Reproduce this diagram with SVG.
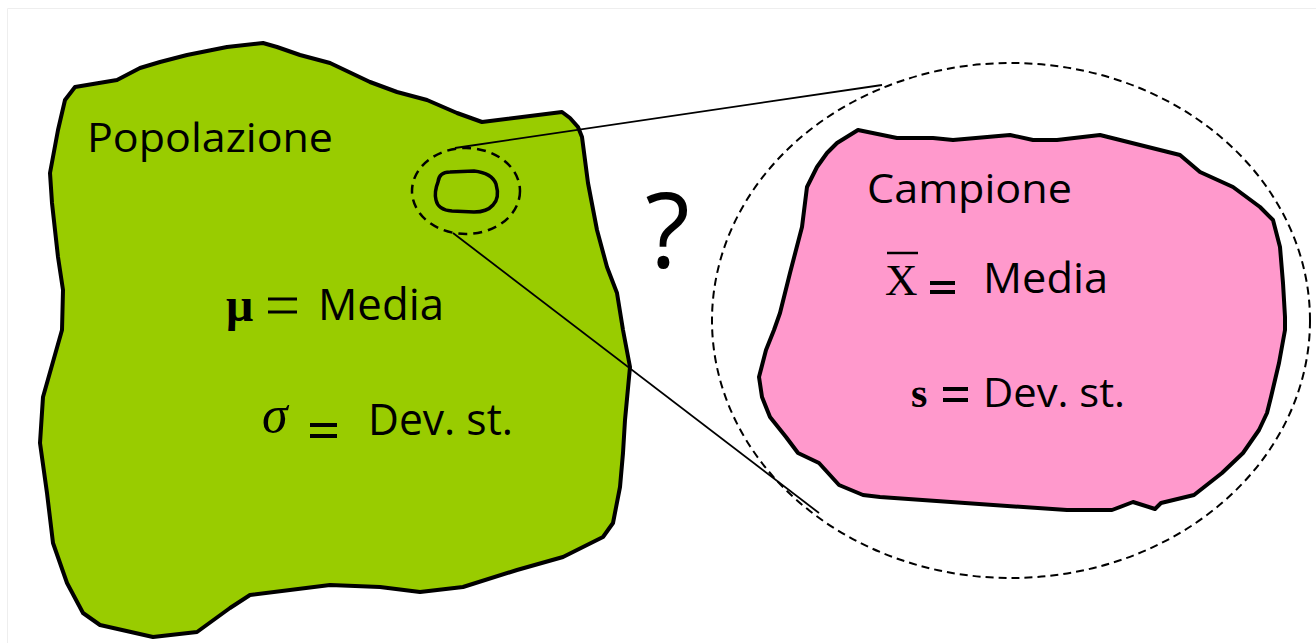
<svg xmlns="http://www.w3.org/2000/svg" width="1316" height="643" viewBox="0 0 1316 643">
<style>
.blob{stroke:#000;stroke-width:4;stroke-linejoin:round}
.sans{font-family:"Open Sans","Noto Sans","Liberation Sans",sans-serif;fill:#000}
.serif{font-family:"Liberation Serif","DejaVu Serif",serif;fill:#000}
.dash{fill:none;stroke:#000}
.conn{stroke:#000;stroke-width:1.8;fill:none}
.eq{stroke:#000;stroke-width:4}
</style>
<rect x="0" y="0" width="1316" height="643" fill="#fff"/>
<path d="M7.5 643V8.5H1316" fill="none" stroke="#eeeeee" stroke-width="1"/>
<g id="popolazione">
<path class="blob" fill="#99CC00" d="M75 87 L117 80 L140 68 L160 62 L187 55 L227 47 L263 43 L277 47 L300 55 L330 63 L370 82 L397 92 L427 100 L457 113 L482 122 L562 112 L570 118 L578 127 L582 137 L588 183 L597 230 L607 267 L617 293 L623 330 L630 367 L625 420 L623 453 L620 487 L613 523 L603 537 L563 557 L517 570 L463 587 L420 592 L380 587 L330 585 L250 595 L230 608 L197 632 L153 637 L100 625 L83 613 L67 583 L53 543 L47 493 L40 443 L43 397 L62 330 L63 290 L58 257 L52 203 L50 173 L58 130 L65 100 Z"/>
<text class="sans" x="87" y="152" font-size="41" textLength="246" lengthAdjust="spacingAndGlyphs">Popolazione</text>
<text class="serif" x="226" y="321" font-size="48" font-weight="bold">μ</text>
<line x1="268" y1="299" x2="297" y2="299" stroke="#000" stroke-width="3"/>
<line x1="268" y1="312" x2="297" y2="312" stroke="#000" stroke-width="3"/>
<text class="sans" x="318" y="320" font-size="44" textLength="126" lengthAdjust="spacingAndGlyphs">Media</text>
<text class="serif" x="262" y="432" font-size="52" font-style="italic">σ</text>
<line class="eq" x1="310" y1="425" x2="337" y2="425"/>
<line class="eq" x1="310" y1="436" x2="337" y2="436"/>
<text class="sans" x="368" y="435" font-size="44" textLength="145" lengthAdjust="spacingAndGlyphs">Dev. st.</text>
</g>
<g id="sample-marker">
<path d="M438 182 Q439 172 450 172 L474 171 Q492 173 496 184 Q500 198 493 205 Q487 212 474 212 L452 211 Q438 210 436 200 Q434 192 438 182 Z" fill="#99CC00" stroke="#000" stroke-width="3.5" stroke-linejoin="round"/>
<ellipse class="dash" cx="466" cy="191" rx="54" ry="43" stroke-width="2.5" stroke-dasharray="9 6"/>
</g>
<g id="connectors">
<line class="conn" x1="455" y1="148" x2="882" y2="85"/>
<line class="conn" x1="453" y1="233" x2="819" y2="513"/>
</g>
<g id="question">
<text class="sans" x="645" y="268" font-size="104">?</text>
</g>
<g id="campione">
<ellipse class="dash" cx="1011" cy="320.5" rx="299" ry="257.5" stroke-width="2" stroke-dasharray="8 5"/>
<path class="blob" fill="#FF99CC" d="M858 130 L897 138 L933 138 L953 140 L1010 135 L1033 140 L1057 140 L1100 135 L1140 145 L1180 155 L1200 172 L1233 187 L1260 207 L1273 220 L1280 247 L1283 283 L1285 317 L1285 330 L1279 363 L1271 397 L1267 413 L1259 430 L1243 453 L1222 473 L1194 495 L1161 503 L1155 509 L1133 502 L1112 510 L1067 510 L965 503 L880 497 L863 495 L839 485 L819 463 L798 453 L786 437 L770 417 L762 397 L759 377 L766 350 L774 330 L780 313 L790 273 L802 227 L807 187 L817 167 L827 153 L837 143 Z"/>
<text class="sans" x="867" y="203" font-size="41" textLength="205" lengthAdjust="spacingAndGlyphs">Campione</text>
<text class="serif" x="885" y="295" font-size="45">X</text>
<line x1="887" y1="253" x2="918" y2="253" stroke="#000" stroke-width="2.5"/>
<line class="eq" x1="930" y1="283" x2="955" y2="283"/>
<line class="eq" x1="930" y1="292" x2="955" y2="292"/>
<text class="sans" x="983" y="293" font-size="42" textLength="125" lengthAdjust="spacingAndGlyphs">Media</text>
<text class="serif" x="911" y="407" font-size="42" font-weight="bold">s</text>
<line class="eq" x1="943" y1="389" x2="968" y2="389"/>
<line class="eq" x1="943" y1="400" x2="968" y2="400"/>
<text class="sans" x="983" y="407" font-size="40" textLength="142" lengthAdjust="spacingAndGlyphs">Dev. st.</text>
</g>
</svg>
